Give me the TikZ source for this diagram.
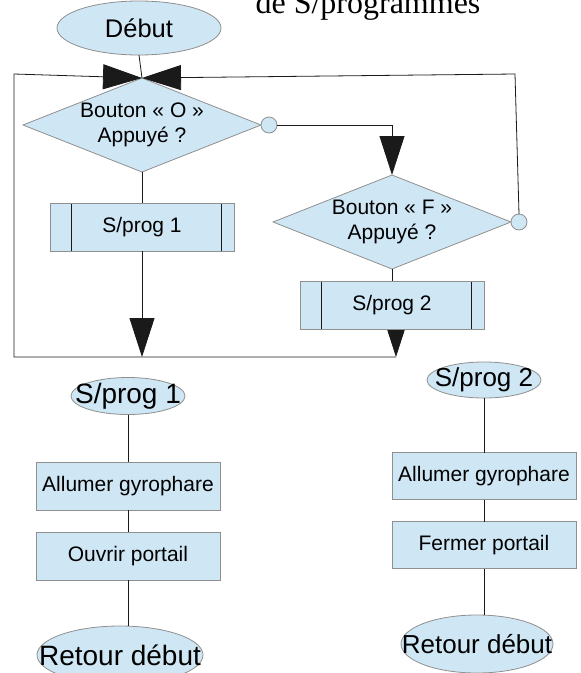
\documentclass[tikz,border=0pt]{standalone}
\usepackage{fontspec}
\setmainfont{Liberation Sans}
\newfontfamily\serifft{Liberation Serif}
\usetikzlibrary{shapes.geometric,arrows.meta,backgrounds}
\definecolor{boxfill}{HTML}{CFE7F5}
\definecolor{boxline}{HTML}{8F8F8F}
\definecolor{connc}{HTML}{1A1A1A}
\begin{document}
\begin{tikzpicture}[x=1pt,y=-1pt,
  shp/.style={draw=boxline, fill=boxfill, line width=0.8pt, inner sep=0pt, outer sep=0pt},
  term/.style={shp, ellipse, inner xsep=-40pt, inner ysep=-8pt},
  procbox/.style={shp, rectangle, minimum width=184pt, minimum height=48pt, font=\fontsize{21}{25}\selectfont},
  subbox/.style={procbox, path picture={
      \draw[connc, line width=0.8pt] ([xshift=21pt]path picture bounding box.north west) -- ([xshift=21pt]path picture bounding box.south west);
      \draw[connc, line width=0.8pt] ([xshift=-13pt]path picture bounding box.north east) -- ([xshift=-13pt]path picture bounding box.south east);}},
  decision/.style={shp, diamond, aspect=2.53, minimum width=238pt, minimum height=94pt, align=center, font=\fontsize{21}{25}\selectfont},
  knob/.style={shp, circle, minimum size=16pt},
  conn/.style={draw=connc, line width=0.8pt},
  arr/.style={conn, -{Triangle[length=39pt,width=25pt]}}
]
\useasboundingbox (0,0) rectangle (581,673);
\clip (0,0) rectangle (581,673);

% title (cut at top)
\node[font=\serifft\fontsize{32}{36}\selectfont, anchor=base, inner sep=0pt] (title) at (368,13) {de S/programmes};

% main flowchart
\node[term, minimum width=164pt, minimum height=54pt, font=\fontsize{25.5}{28}\selectfont] (debut) at (139,28) {Début};
\node[decision] (d1) at (142,125) {Bouton « O »\\Appuyé ?};
\node[knob, anchor=west] (c1) at (d1.east) {};
\node[decision] (d2) at (392,222) {Bouton « F »\\Appuyé ?};
\node[knob, anchor=west] (c2) at (d2.east) {};
\node[subbox] (sp1b) at (142,227) {S/prog 1};
\node[subbox] (sp2b) at (392,305) {S/prog 2};

\coordinate (tl) at (14,74);
\coordinate (bl) at (14,357);
\coordinate (tr) at (515,74);
\coordinate (j1) at (sp1b.south |- bl);
\coordinate (j2) at ([xshift=4pt]sp2b.south |- bl);

\begin{scope}[on background layer]
  \draw[arr] ([xshift=4pt]sp2b.south) -- (j2);
\end{scope}
\draw[conn] (debut.south) -- (d1.north);
\draw[conn] (d1.south) -- (sp1b.north);
\draw[conn] (d2.south) -- (sp2b.north);
\draw[arr] (c1.east) -| (d2.north);
\draw[arr] (sp1b.south) -- (j1);
\draw[arr] (j2) -- (bl) -- (tl) -- (d1.north);
\draw[arr] (c2.north) -- (tr) -- (d1.north);

% sub-program 1
\node[term, minimum width=114pt, minimum height=37pt, font=\fontsize{28}{32}\selectfont] (sp1e) at (128,396) {S/prog 1};
\node[procbox] (al1) at (128,486) {Allumer gyrophare};
\node[procbox] (ouv) at (128,556) {Ouvrir portail};
\node[term, minimum width=166pt, minimum height=58pt, font=\fontsize{28}{32}\selectfont] (ret1) at (120,655) {Retour début};
\draw[conn] (sp1e.south) -- (al1.north);
\draw[conn] (al1.south) -- (ouv.north);
\draw[conn] (ouv.south) -- (ouv.south |- ret1.north);

% sub-program 2
\node[term, minimum width=114pt, minimum height=36pt, font=\fontsize{26}{30}\selectfont] (sp2e) at (484,380) {S/prog 2};
\node[procbox, minimum height=47pt] (al2) at (484,476) {Allumer gyrophare};
\node[procbox, minimum height=47pt] (fer) at (484,545) {Fermer portail};
\node[term, minimum width=152pt, minimum height=58pt, font=\fontsize{26}{30}\selectfont] (ret2) at (477,644) {Retour début};
\draw[conn] (sp2e.south) -- (al2.north);
\draw[conn] (al2.south) -- (fer.north);
\draw[conn] (fer.south) -- (fer.south |- ret2.north);
\end{tikzpicture}
\end{document}
